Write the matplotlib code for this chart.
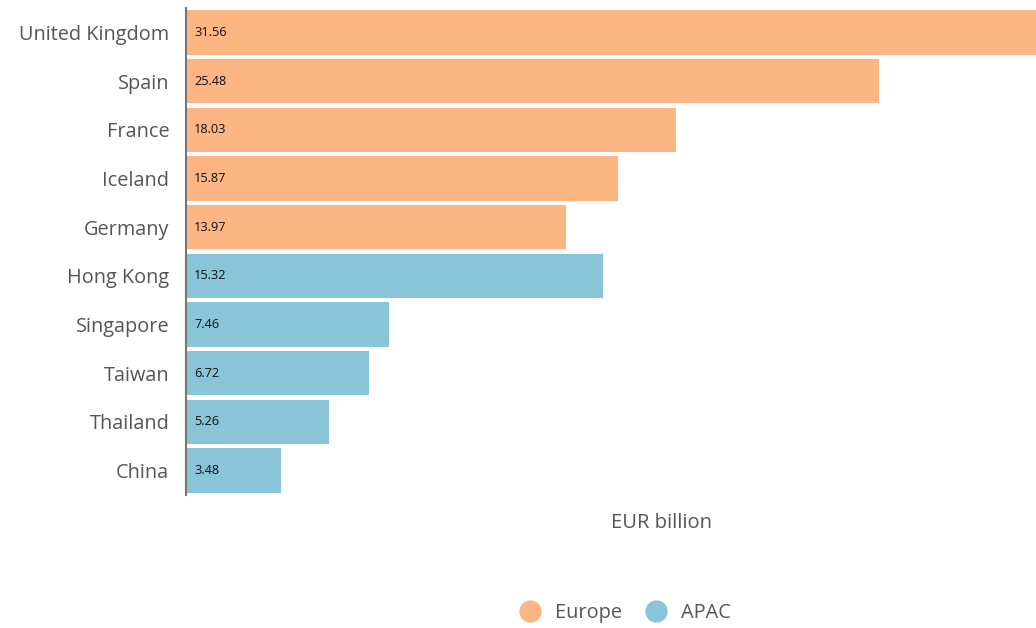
import matplotlib
matplotlib.use("Agg")
import matplotlib.pyplot as plt
from matplotlib.lines import Line2D

plt.rcParams['font.family'] = ['Open Sans', 'DejaVu Sans']

# Data
countries = ["United Kingdom", "Spain", "France", "Iceland", "Germany",
             "Hong Kong", "Singapore", "Taiwan", "Thailand", "China"]
values = [31.56, 25.48, 18.03, 15.87, 13.97, 15.32, 7.46, 6.72, 5.26, 3.48]
regions = ["Europe"] * 5 + ["APAC"] * 5

region_colors = {"Europe": "#FDB683", "APAC": "#89C4D8"}

fig = plt.figure(figsize=(10.36, 6.28), dpi=100)
ax = fig.add_axes([0.1795, 0.212, 0.8205, 0.775])

y = list(range(len(countries)))
ax.barh(y, values, height=0.91, color=[region_colors[r] for r in regions])

for yi, v in zip(y, values):
    ax.text(0.3, yi, f"{v:.2f}", va="center", ha="left", fontsize=9.2, color="#111111")

ax.set_yticks(y)
ax.set_yticklabels(countries, fontsize=14.3, color="#555555")
ax.set_ylim(len(countries) - 0.5, -0.5)
ax.set_xlim(0, 31.25)
ax.set_xticks([])
ax.tick_params(axis="y", length=0, pad=12)

for s in ["top", "right", "bottom"]:
    ax.spines[s].set_visible(False)
ax.spines["left"].set_color("#777777")
ax.spines["left"].set_linewidth(1.5)

ax.set_xlabel("EUR billion", fontsize=14.5, color="#555555")
ax.xaxis.set_label_coords(0.559, -0.037)

handles = [Line2D([0], [0], marker="o", linestyle="", markersize=15,
                  markerfacecolor=region_colors[r], markeredgecolor=region_colors[r], label=r)
           for r in ["Europe", "APAC"]]
leg = fig.legend(handles=handles, loc="center", bbox_to_anchor=(0.599, 0.024), ncol=2,
                 frameon=False, fontsize=14.3, handletextpad=0.25, columnspacing=0.7)
for t in leg.get_texts():
    t.set_color("#555555")

fig.savefig("out.png", dpi=100)
